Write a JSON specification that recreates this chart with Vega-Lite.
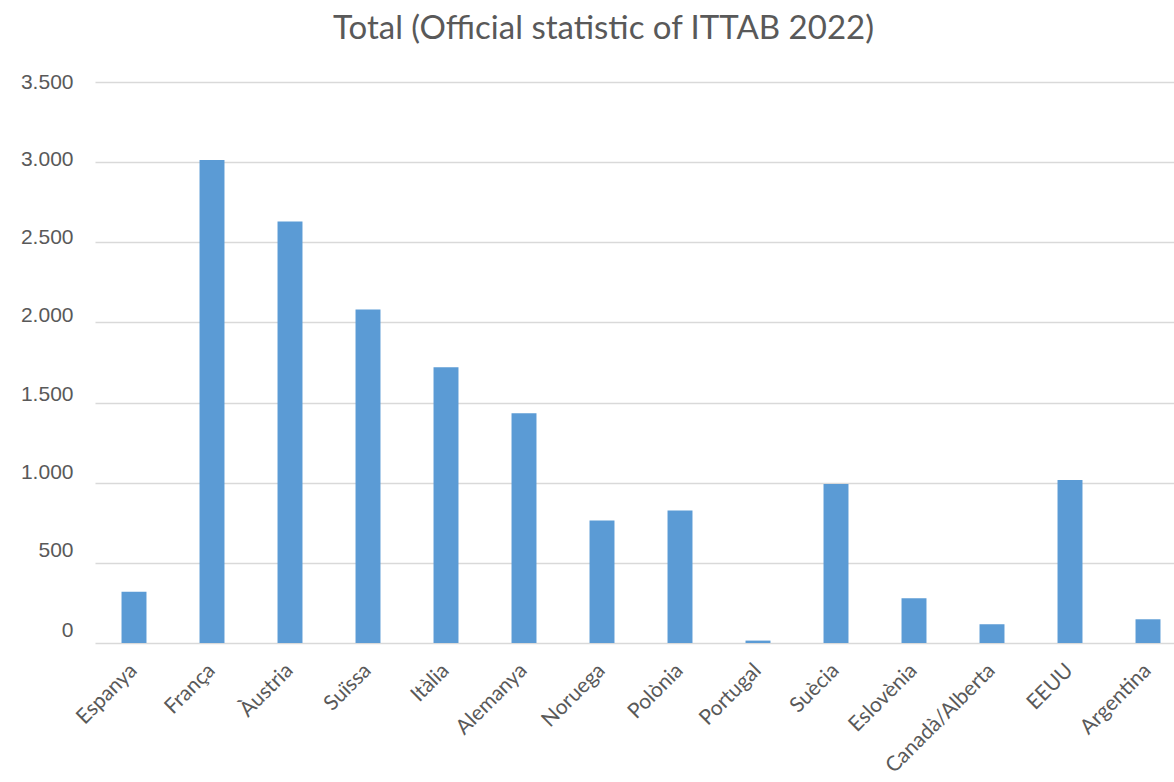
{
  "$schema": "https://vega.github.io/schema/vega-lite/v6.json",
  "autosize": "none",
  "width": 1079,
  "height": 561,
  "padding": {"left": 95, "top": 82, "right": 0, "bottom": 139},
  "background": "white",
  "title": {
    "text": "Total (Official statistic of ITTAB 2022)",
    "font": "Lato",
    "fontSize": 33,
    "fontWeight": "normal",
    "color": "#595959",
    "anchor": "middle",
    "baseline": "alphabetic",
    "offset": -1,
    "dx": -31
  },
  "data": {
    "values": [
      {"country": "Espanya", "total": 320},
      {"country": "França", "total": 3013},
      {"country": "Àustria", "total": 2630},
      {"country": "Suïssa", "total": 2081},
      {"country": "Itàlia", "total": 1721},
      {"country": "Alemanya", "total": 1433},
      {"country": "Noruega", "total": 765},
      {"country": "Polònia", "total": 827},
      {"country": "Portugal", "total": 15},
      {"country": "Suècia", "total": 992},
      {"country": "Eslovènia", "total": 279},
      {"country": "Canadà/Alberta", "total": 117},
      {"country": "EEUU", "total": 1017},
      {"country": "Argentina", "total": 148}
    ]
  },
  "mark": {"type": "bar", "color": "#5B9BD5"},
  "encoding": {
    "x": {
      "field": "country",
      "type": "nominal",
      "sort": null,
      "title": null,
      "scale": {"range": [0, 1092], "paddingInner": 0.68, "paddingOuter": 0.34},
      "axis": {
        "domain": false,
        "ticks": false,
        "labelAngle": -45,
        "labelAlign": "right",
        "labelBaseline": "middle",
        "labelPadding": 24,
        "labelFont": "Lato",
        "labelFontSize": 21,
        "labelColor": "#595959"
      }
    },
    "y": {
      "field": "total",
      "type": "quantitative",
      "title": null,
      "scale": {"domain": [0, 3500], "nice": false, "zero": true},
      "axis": {
        "values": [0, 500, 1000, 1500, 2000, 2500, 3000, 3500],
        "labelExpr": "replace(format(datum.value, ','), ',', '.')",
        "domain": false,
        "ticks": false,
        "grid": true,
        "gridColor": "#d9d9d9",
        "gridWidth": 1.5,
        "labelPadding": 22,
        "labelFont": "Liberation Sans",
        "labelFontSize": 21,
        "labelColor": "#595959",
        "labelOffset": {
          "condition": [
            {"test": "datum.value == 0", "value": -13},
            {"test": "datum.value == 500", "value": -12},
            {"test": "datum.value == 1000", "value": -10},
            {"test": "datum.value == 1500", "value": -8.5},
            {"test": "datum.value == 2000", "value": -7},
            {"test": "datum.value == 2500", "value": -5},
            {"test": "datum.value == 3000", "value": -2.5}
          ],
          "value": 0
        }
      }
    }
  },
  "config": {"view": {"stroke": null}}
}
